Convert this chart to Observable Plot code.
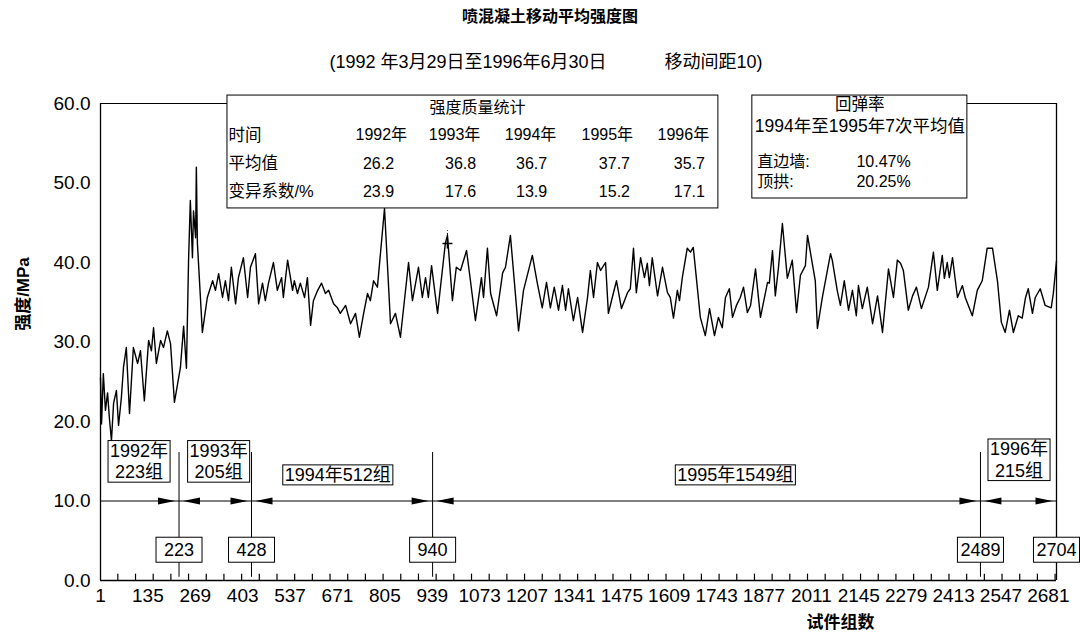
<!DOCTYPE html>
<html><head><meta charset="utf-8">
<script src="https://cdn.jsdelivr.net/npm/d3@7"></script>
<script src="https://cdn.jsdelivr.net/npm/@observablehq/plot@0.6"></script>
<style>
body{margin:0;background:#fff;font-family:"Liberation Sans","Noto Sans CJK SC",sans-serif;color:#000;}
#head{position:relative;width:1080px;height:80px;}
#t1{position:absolute;left:0;width:1100px;top:4px;text-align:center;font-size:16px;font-weight:bold;line-height:22px;font-family:"Noto Sans CJK SC",sans-serif;}
#t2{position:absolute;left:0;width:1092px;top:50px;text-align:center;font-size:18px;line-height:24px;white-space:pre;}
#t2 span.r{margin-left:58px;}
svg{display:block;}
</style></head><body>
<div id="head"><div id="t1"></div><div id="t2"></div></div>
<div id="chart"></div>
<script>
// ---------------- data ----------------
const titleText = "喷混凝土移动平均强度图";
const subtitleLeft = "(1992 年3月29日至1996年6月30日";
const subtitleRight = "移动间距10)";
const yLabel = "强度/MPa";
const xLabel = "试件组数";

// moving-average strength: specimen group number and strength (MPa)
const sampleNo = [
  1,4,9,15,21,26,32,38,46,52,
  60,66,74,83,94,106,114,125,137,145,
  151,159,171,179,190,199,210,227,236,244,
  250,255,261,264,270,272,275,289,303,318,
  326,335,346,354,363,371,383,391,405,417,
  425,439,448,459,467,476,490,501,513,518,
  530,544,549,558,566,578,586,595,603,615,
  626,637,646,660,671,679,694,708,722,733,
  745,756,764,773,784,804,821,835,849,872,
  883,900,911,920,928,937,954,976,982,996,
  1007,1019,1036,1047,1061,1078,1084,1095,1104,1121,
  1138,1146,1160,1183,1197,1222,1236,1250,1262,1273,
  1284,1296,1307,1316,1324,1338,1350,1364,1378,1386,
  1395,1406,1415,1429,1437,1448,1460,1474,1491,1499,
  1508,1516,1528,1539,1547,1553,1561,1576,1590,1604,
  1612,1621,1632,1638,1646,1660,1669,1677,1697,1711,
  1723,1737,1748,1759,1768,1779,1788,1799,1810,1819,
  1830,1839,1853,1867,1887,1892,1901,1909,1918,1929,
  1943,1957,1969,1980,1994,2000,2022,2028,2042,2065,
  2070,2084,2093,2104,2116,2127,2138,2144,2155,2169,
  2184,2198,2212,2229,2243,2254,2263,2271,2285,2297,
  2308,2322,2342,2356,2367,2381,2387,2395,2401,2410,
  2424,2438,2446,2466,2480,2494,2508,2523,2537,2548,
  2559,2571,2582,2596,2607,2616,2624,2636,2644,2658,
  2672,2689,2695,2704
];
const strength = [
  25.5,19.7,26,21.4,23.6,20.5,17.6,22.3,23.9,19.5,
  23,26.8,29.3,21,29.3,27.3,28.9,22.6,30.2,28.9,
  31.8,27.3,30.2,29.3,31.4,29.8,22.4,26.8,32,26.7,
  40.3,47.8,40.6,46.5,43.1,52,42.4,31.2,35.6,37.7,
  36.5,38.6,35.6,37.7,35.2,39.4,34.8,38.1,40.6,35.6,
  39.4,41.1,34.8,37.4,35.2,37.4,40,36.5,38.1,35.6,
  40.3,36.5,37.7,36.1,37.4,35.6,38.1,32.1,35.2,36.5,
  37.4,36.1,36.5,34.8,34.3,33.6,34.6,32.3,33.6,30.6,
  33.6,36.1,35.2,37.7,36.9,46.8,32.3,33.6,30.6,40,
  35.2,39.4,35.6,38.1,35.6,39.6,33.6,42.4,43.4,35.2,
  39.4,39,41.5,37.7,32.7,38.1,35.6,41.8,36.1,33.3,
  38.7,39.4,43.4,31.4,36.5,40.9,37.4,34.3,37.5,34.3,
  36.9,34,37.1,34,36.7,32.7,35.6,31.2,35.6,39,
  35.6,40,39,40,33.6,35.6,37.7,34.2,36.2,36.7,
  41.8,36.2,40.6,38.1,39.9,37.1,40.6,35.8,39.4,36.2,
  35.6,33,36.5,35.2,38.1,41.8,41.3,41.9,33.1,30.8,
  34.2,30.8,33.1,31.8,35.6,36.7,33.1,34.6,35.6,36.9,
  33.7,34.6,39.2,33.1,37.5,37.4,41.5,35.8,39.4,44.9,
  38,40.3,33.7,38.4,39.6,43.4,37.7,31.7,35.6,41.1,
  40.3,36.5,34.6,37.7,34,36.5,33.3,37.1,34.2,36.9,
  32.3,35.8,31.2,39.2,35.6,40.3,39.9,39,34,35.8,
  36.9,34.2,36.9,41.3,36.5,40.9,38,40,38.1,40.6,
  35.6,37.1,35.6,33.3,36.5,37.7,41.8,41.8,37.7,32.5,
  31.2,34,31.2,33.3,33,35.5,36.7,33.6,35.6,36.7,
  34.6,34.3,36.1,40.2
];

const xTickLabels = [1,135,269,403,537,671,805,939,1073,1207,1341,1475,1609,1743,1877,2011,2145,2279,2413,2547,2681];
const yTickLabels = [0,10,20,30,40,50,60];

// year boundaries (cumulative group counts) and group labels
const boundaries = [223, 428, 940, 2489, 2704];
const groupLabels = ["1992年\n223组", "1993年\n205组", "1994年512组", "1995年1549组", "1996年\n215组"];

// statistics table
const statTitle = "强度质量统计";
const statRowNames = ["时间", "平均值", "变异系数/%"];
const statYears = ["1992年", "1993年", "1994年", "1995年", "1996年"];
const statMean = [26.2, 36.8, 36.7, 37.7, 35.7];
const statCV = [23.9, 17.6, 13.9, 15.2, 17.1];

// rebound table
const reboundTitle = "回弹率";
const reboundSub = "1994年至1995年7次平均值";
const reboundItems = ["直边墙:", "顶拱:"];
const reboundValues = ["10.47%", "20.25%"];

// marked point
const markedPoint = [{n: 982, v: 42.4}];

// ---------------- layout (data units) ----------------
const xDomain = [1, 2704], yDomain = [0, 60];
const minorTickStep = 50, minorTickLen = 0.8;
const topFrameSegments = [{x1: 1, x2: 360}, {x1: 2452, x2: 2704}];
const groupPos = {x: [110, 335, 672, 1796, 2598], y: [15.1, 15.1, 13.4, 13.4, 15.3]};
const boundaryLine = {y1: 0.4, y2: 16.1};
const arrowY = 10, numBoxY = 3.84;
const statBox = {x1: 360, x2: 1748, y1: 46.8, y2: 61.0};
const statPos = {titleX: 1067, titleY: 59.5, labelX: 363, rowY: [56.0, 52.4, 48.9],
                 yearX: [795, 1002, 1217, 1434, 1649], valueX: [787, 1019, 1220, 1454, 1666]};
const rebBox = {x1: 1844, x2: 2452, y1: 48.05, y2: 61.0};
const rebPos = {titleX: 2148, titleY: 59.9, subY: 57.1, itemX: 1858, valueX: 2215, rowY: [52.7, 50.1]};

// ---------------- build ----------------
document.getElementById("t1").textContent = titleText;
const t2 = document.getElementById("t2");
const s1 = document.createElement("span"); s1.textContent = subtitleLeft;
const s2 = document.createElement("span"); s2.className = "r"; s2.textContent = subtitleRight;
t2.append(s1, s2);

const FONT = '"Liberation Sans","Noto Sans CJK SC",sans-serif';
const series = sampleNo.map((n, i) => ({n, v: strength[i]}));
const minorTicks = d3.range(minorTickStep, xDomain[1], minorTickStep).map(x => ({x, y1: yDomain[0], y2: minorTickLen}));

const rightHead = {draw(c) { c.moveTo(-4, 0); c.lineTo(-21, -3.5); c.lineTo(-21, 3.5); c.closePath(); }};
const leftHead = {draw(c) { c.moveTo(4, 0); c.lineTo(21, -3.5); c.lineTo(21, 3.5); c.closePath(); }};
const thinPlus = {draw(c) { c.moveTo(-5, 0); c.lineTo(5, 0); c.moveTo(0, -5); c.lineTo(0, 5); }};

const groupData = groupLabels.map((t, i) => ({t, x: groupPos.x[i], y: groupPos.y[i]}));

const statLeft = statRowNames.map((t, i) => ({t, x: statPos.labelX, y: statPos.rowY[i]}));
const statMid = [];
statMid.push({t: statTitle, x: statPos.titleX, y: statPos.titleY});
statYears.forEach((t, i) => statMid.push({t, x: statPos.yearX[i], y: statPos.rowY[0]}));
statMean.forEach((v, i) => statMid.push({t: v.toFixed(1), x: statPos.valueX[i], y: statPos.rowY[1]}));
statCV.forEach((v, i) => statMid.push({t: v.toFixed(1), x: statPos.valueX[i], y: statPos.rowY[2]}));

const rebLeft = reboundItems.map((t, i) => ({t, x: rebPos.itemX, y: rebPos.rowY[i]}));
const rebMid = reboundValues.map((t, i) => ({t, x: rebPos.valueX, y: rebPos.rowY[i]}));

const svg = Plot.plot({
  width: 1080, height: 556,
  marginLeft: 100, marginRight: 24, marginTop: 23, marginBottom: 56,
  x: {domain: xDomain, label: null},
  y: {domain: yDomain, label: null},
  style: {fontFamily: FONT, background: "white", overflow: "visible", color: "black"},
  marks: [
    Plot.ruleX(minorTicks, {x: "x", y1: "y1", y2: "y2", stroke: "black", strokeWidth: 1.2}),
    Plot.ruleY([yDomain[0]], {stroke: "black", strokeWidth: 1.3}),
    Plot.ruleX(xDomain, {stroke: "black", strokeWidth: 1.3}),
    Plot.ruleY(topFrameSegments, {y: () => yDomain[1], x1: "x1", x2: "x2", stroke: "black", strokeWidth: 1}),
    Plot.axisY({ticks: yTickLabels, tickSize: 0, tickPadding: 10, tickFormat: d => d.toFixed(1), fontSize: 19, label: null}),
    Plot.axisX({ticks: xTickLabels, tickSize: 0, tickPadding: 8, tickFormat: d => String(d), fontSize: 19, label: null}),
    Plot.line(series, {x: "n", y: "v", stroke: "black", strokeWidth: 1.4}),
    Plot.ruleX(markedPoint, {x: "n", y1: "v", y2: d => d.v + 1.6, stroke: "black", strokeDasharray: "2,2"}),
    Plot.dot(markedPoint, {x: "n", y: "v", symbol: thinPlus, stroke: "black", fill: "none", r: 4}),
    Plot.ruleY([arrowY], {stroke: "black", strokeWidth: 1.2}),
    Plot.ruleX(boundaries.slice(0, -1), {x: d => d, y1: () => boundaryLine.y1, y2: () => boundaryLine.y2, stroke: "black", strokeWidth: 1}),
    Plot.dot(boundaries, {x: d => d, y: () => arrowY, symbol: rightHead, fill: "black", stroke: null, r: 3}),
    Plot.dot(boundaries.slice(0, -1), {x: d => d, y: () => arrowY, symbol: leftHead, fill: "black", stroke: null, r: 3}),
    Plot.text(groupData, {x: "x", y: "y", text: "t", fontSize: 18, lineHeight: 1.2, fill: "black", className: "boxY"}),
    Plot.text(boundaries, {x: d => d, y: () => numBoxY, text: d => String(d), fontSize: 18, fill: "black", className: "boxN"}),
    Plot.rect([statBox], {x1: "x1", x2: "x2", y1: "y1", y2: "y2", fill: "white", stroke: "black", strokeWidth: 1}),
    Plot.text(statLeft, {x: "x", y: "y", text: "t", textAnchor: "start", fontSize: 16.5, fill: "black"}),
    Plot.text(statMid, {x: "x", y: "y", text: "t", textAnchor: "middle", fontSize: 16, fill: "black"}),
    Plot.rect([rebBox], {x1: "x1", x2: "x2", y1: "y1", y2: "y2", fill: "white", stroke: "black", strokeWidth: 1}),
    Plot.text([reboundTitle], {x: () => rebPos.titleX, y: () => rebPos.titleY, text: d => d, fontSize: 16.5, fill: "black"}),
    Plot.text([reboundSub], {x: () => rebPos.titleX, y: () => rebPos.subY, text: d => d, fontSize: 17.5, fill: "black"}),
    Plot.text(rebLeft, {x: "x", y: "y", text: "t", textAnchor: "start", fontSize: 16, fill: "black"}),
    Plot.text(rebMid, {x: "x", y: "y", text: "t", textAnchor: "middle", fontSize: 16, fill: "black"}),
    Plot.text([yLabel], {frameAnchor: "left", y: () => 31.4, dx: -77, rotate: -90, text: d => d, fontSize: 17, fontWeight: "bold", fill: "black"}),
    Plot.text([xLabel], {x: () => 2093, frameAnchor: "bottom", dy: 47, text: d => d, fontSize: 17, fontWeight: "bold", fill: "black"})
  ]
});
document.getElementById("chart").append(svg);

function boxify(cls, px, py, minW) {
  svg.querySelectorAll(`g.${cls} text`).forEach(t => {
    const b = t.getBBox();
    const w = Math.max(b.width + 2 * px, minW || 0);
    const cx = b.x + b.width / 2;
    const r = document.createElementNS("http://www.w3.org/2000/svg", "rect");
    r.setAttribute("x", cx - w / 2);
    r.setAttribute("y", b.y - py);
    r.setAttribute("width", w);
    r.setAttribute("height", b.height + 2 * py);
    r.setAttribute("fill", "white");
    r.setAttribute("stroke", "black");
    r.setAttribute("stroke-width", "1");
    const tr = t.getAttribute("transform");
    if (tr) r.setAttribute("transform", tr);
    t.parentNode.insertBefore(r, t);
  });
}
boxify("boxY", 2, 0, 0);
boxify("boxN", 3, 2.5, 46);
</script>
</body></html>
